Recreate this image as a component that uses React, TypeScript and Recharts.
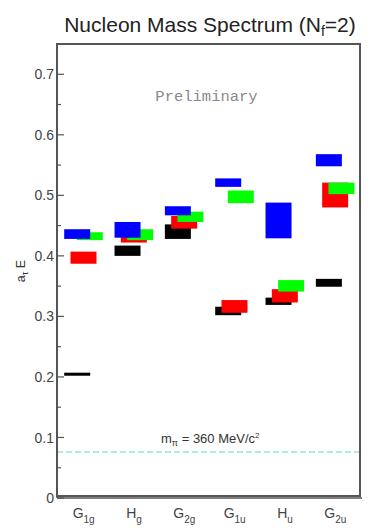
import { BarChart, Bar, XAxis, YAxis, ReferenceLine } from "recharts";

const categories = ["G1g", "Hg", "G2g", "G1u", "Hu", "G2u"];
const labelMain = ["G", "H", "G", "G", "H", "G"];
const labelSub = ["1g", "g", "2g", "1u", "u", "2u"];

// energy bands as [low, high] in units of a_t E
const blackLevels = [[0.202, 0.207], [0.400, 0.417], [0.428, 0.452], [0.302, 0.316], [0.319, 0.331], [0.349, 0.362]];
const redLevels = [[0.387, 0.407], [0.422, 0.438], [0.445, 0.466], [0.306, 0.327], [0.323, 0.345], [0.480, 0.521]];
const greenLevels = [[0.426, 0.439], [0.426, 0.444], [0.456, 0.473], [0.487, 0.508], [0.341, 0.360], [0.502, 0.521]];
const blueLevels = [[0.428, 0.444], [0.430, 0.456], [0.467, 0.482], [0.514, 0.528], [0.429, 0.488], [0.548, 0.568]];

const yTicks = [0, 0.05, 0.1, 0.15, 0.2, 0.25, 0.3, 0.35, 0.4, 0.45, 0.5, 0.55, 0.6, 0.65, 0.7];
const yMax = 0.75;
const pionLevel = 0.076;

const data = categories.map((cat, i) => ({
  cat,
  black: blackLevels[i],
  red: redLevels[i],
  green: greenLevels[i],
  blue: blueLevels[i],
}));

// draw order matters: blue ends up on top
const series = [
  { key: "black", color: "#000000", dx: -6.3 },
  { key: "red", color: "#ff0000", dx: 0 },
  { key: "green", color: "#00ff00", dx: 6.3 },
  { key: "blue", color: "#0000ff", dx: -6.3 },
];

const W = 381;
const H = 528;
const M = { top: 44, right: 19, bottom: 0, left: 0 };
const Y_AXIS_W = 57;
const X_AXIS_H = 30;

const FONT = "'Liberation Sans', Arial, Helvetica, sans-serif";
const FRAME = "#555";

function boxShape(color: string, dx: number) {
  return (props: any) => {
    const { x, y, width, height } = props;
    if (x == null || y == null) return null;
    const top = height < 0 ? y + height : y;
    return <rect x={x + dx} y={top} width={width} height={Math.max(Math.abs(height), 1)} fill={color} />;
  };
}

function YTick(props: any) {
  const { x, y, payload } = props;
  const v = payload.value as number;
  const major = Math.round(v * 100) % 10 === 0;
  return (
    <g>
      <line x1={x} x2={x + (major ? 7 : 4)} y1={y} y2={y} stroke={FRAME} strokeWidth={1.2} />
      {major && (
        <text x={x - 3} y={y} dy="0.36em" textAnchor="end" fontSize={14} fontFamily={FONT} fill="#444">
          {v === 0 ? "0" : v.toFixed(1)}
        </text>
      )}
    </g>
  );
}

function XTick(props: any) {
  const { x, y, payload } = props;
  const i = categories.indexOf(payload.value);
  return (
    <text x={x} y={y + 20} textAnchor="middle" fontFamily={FONT} fill="#444">
      <tspan fontSize={14}>{labelMain[i]}</tspan>
      <tspan fontSize={10} dy={5}>{labelSub[i]}</tspan>
    </text>
  );
}

export default function App() {
  const plotLeft = M.left + Y_AXIS_W;
  const plotTop = M.top;
  const plotW = W - M.right - plotLeft;
  const plotH = H - M.bottom - X_AXIS_H - plotTop;

  return (
    <div style={{ position: "absolute", left: 0, top: 0, width: W, height: H, background: "#fff" }}>
      <BarChart width={W} height={H} data={data} margin={M} barGap={-26} barCategoryGap={0}>
        <XAxis
          dataKey="cat"
          height={X_AXIS_H}
          interval={0}
          tickLine={false}
          tickSize={0}
          tickMargin={0}
          padding={{ left: 1.5, right: 1.5 }}
          axisLine={{ stroke: FRAME, strokeWidth: 1.5 }}
          tick={<XTick />}
        />
        <YAxis
          width={Y_AXIS_W}
          domain={[0, yMax]}
          ticks={yTicks}
          interval={0}
          tickLine={false}
          tickSize={0}
          tickMargin={0}
          axisLine={{ stroke: FRAME, strokeWidth: 1.5 }}
          tick={<YTick />}
        />
        <ReferenceLine y={pionLevel} stroke="#8fe3e3" strokeWidth={1.5} strokeDasharray="6 3" />
        {series.map((s) => (
          <Bar
            key={s.key}
            dataKey={s.key}
            barSize={26}
            fill={s.color}
            isAnimationActive={false}
            shape={boxShape(s.color, s.dx)}
          />
        ))}
      </BarChart>
      {/* plot frame */}
      <div
        style={{
          position: "absolute",
          left: plotLeft - 1,
          top: plotTop - 1,
          width: plotW,
          height: plotH,
          border: `2px solid ${FRAME}`,
          boxSizing: "border-box",
          pointerEvents: "none",
        }}
      />
      <svg width={W} height={H} style={{ position: "absolute", left: 0, top: 0, pointerEvents: "none" }}>
        <text x={210} y={31.5} textAnchor="middle" fontSize={21} fontFamily={FONT} fill="#222">
          Nucleon Mass Spectrum (N
          <tspan fontSize={14} dy={4}>f</tspan>
          <tspan dy={-4}>=2)</tspan>
        </text>
        <text x={206.5} y={100.5} textAnchor="middle" fontSize={15.5} fontFamily="'Liberation Mono', 'DejaVu Sans Mono', monospace" fill="#8a8a8a">
          Preliminary
        </text>
        <text x={161} y={442.5} fontSize={13} fontFamily={FONT} fill="#333">
          m
          <tspan fontSize={9} dy={3}>π</tspan>
          <tspan dy={-3}> = 360 MeV/c</tspan>
          <tspan fontSize={8} dy={-5}>2</tspan>
        </text>
        <text x={25} y={271} transform="rotate(-90 25 271)" textAnchor="middle" fontSize={12.5} fontFamily={FONT} fill="#333">
          a
          <tspan fontSize={9} dy={3}>τ</tspan>
          <tspan dy={-3}> E</tspan>
        </text>
      </svg>
    </div>
  );
}
